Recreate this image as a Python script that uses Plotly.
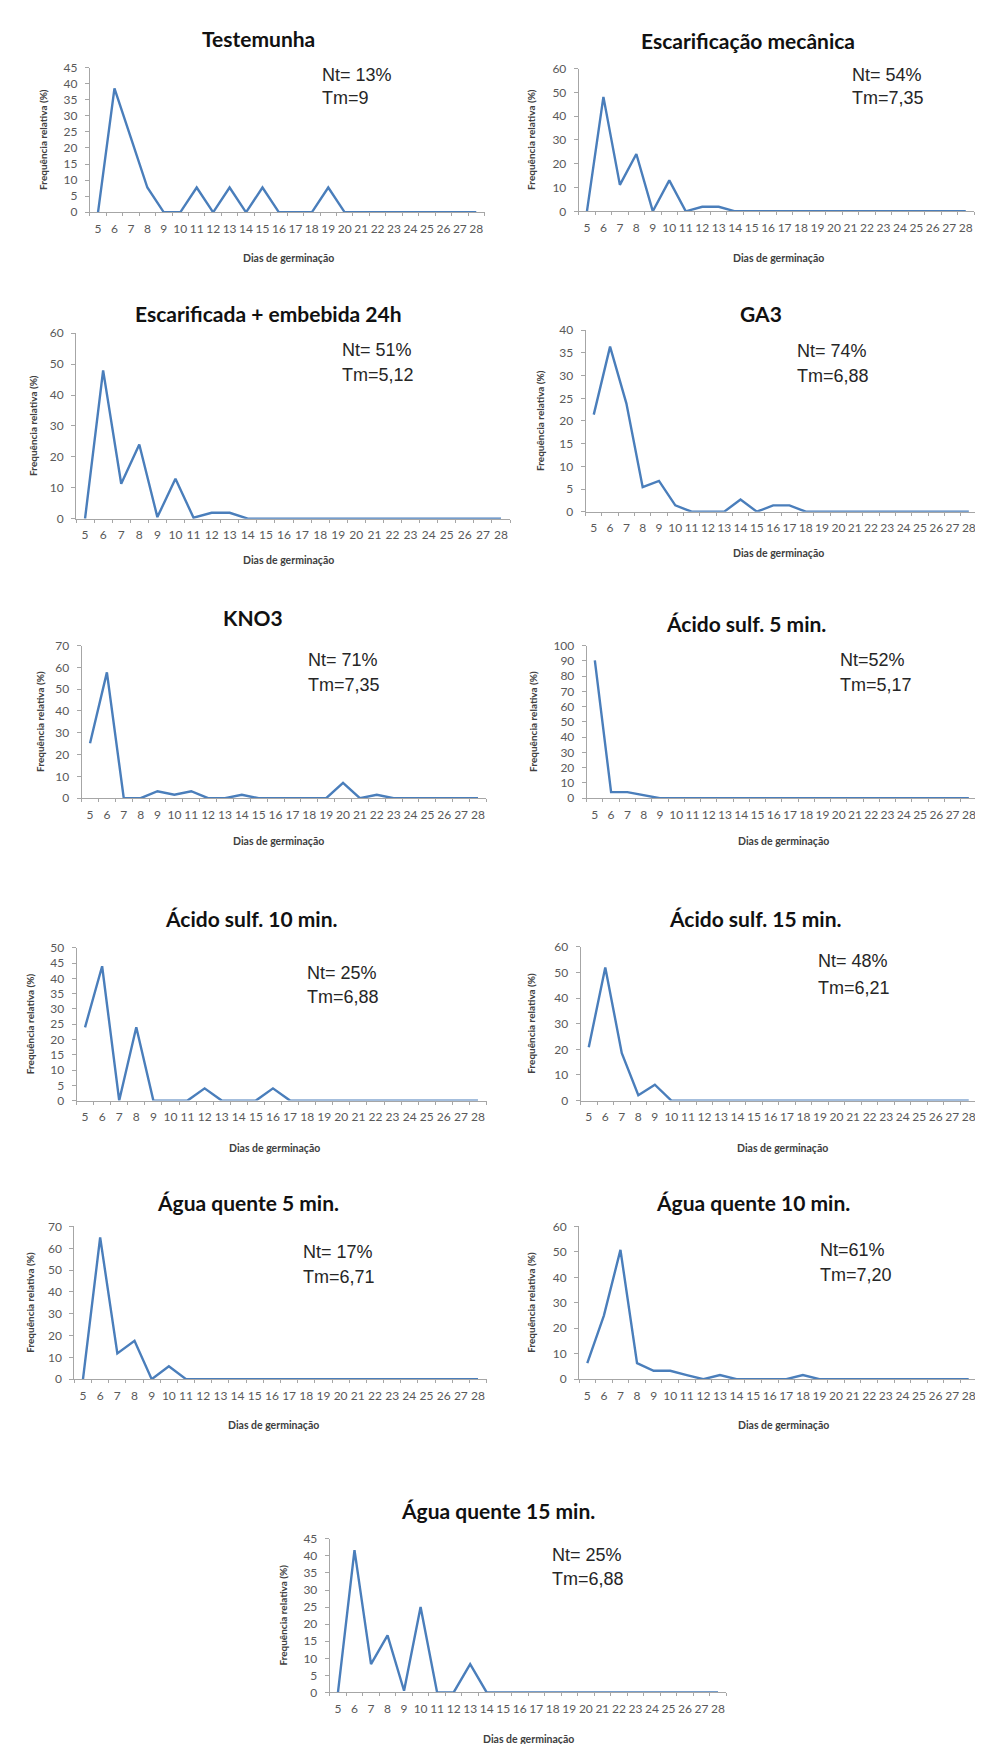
import plotly.graph_objects as go

W, H = 983, 1744

days = list(range(5, 29))

titles = [
    "Testemunha", "Escarificação mecânica", "Escarificada + embebida 24h", "GA3",
    "KNO3", "Ácido sulf. 5 min.", "Ácido sulf. 10 min.", "Ácido sulf. 15 min.",
    "Água quente 5 min.", "Água quente 10 min.", "Água quente 15 min.",
]
nt_labels = ["Nt= 13%", "Nt= 54%", "Nt= 51%", "Nt= 74%", "Nt= 71%", "Nt=52%",
             "Nt= 25%", "Nt= 48%", "Nt= 17%", "Nt=61%", "Nt= 25%"]
tm_labels = ["Tm=9", "Tm=7,35", "Tm=5,12", "Tm=6,88", "Tm=7,35", "Tm=5,17",
             "Tm=6,88", "Tm=6,21", "Tm=6,71", "Tm=7,20", "Tm=6,88"]
y_max = [45, 60, 60, 40, 70, 100, 50, 60, 70, 60, 45]
y_step = [5, 10, 10, 5, 10, 10, 5, 10, 10, 10, 5]

testemunha = [0, 38.5, 23.1, 7.7, 0, 0, 7.7, 0, 7.7, 0, 7.7, 0, 0, 0, 7.7, 0, 0, 0, 0, 0, 0, 0, 0, 0]
mecanica = [0, 48.1, 11.1, 24.1, 0, 13.0, 0, 1.9, 1.9, 0, 0, 0, 0, 0, 0, 0, 0, 0, 0, 0, 0, 0, 0, 0]
embebida = [0, 48.0, 11.3, 24.0, 0.5, 12.9, 0.3, 1.9, 1.9, 0, 0, 0, 0, 0, 0, 0, 0, 0, 0, 0, 0, 0, 0, 0]
ga3 = [21.4, 36.4, 23.9, 5.4, 6.8, 1.4, 0, 0, 0, 2.7, 0, 1.4, 1.4, 0, 0, 0, 0, 0, 0, 0, 0, 0, 0, 0]
kno3 = [25.2, 57.7, 0, 0, 3.2, 1.6, 3.2, 0, 0, 1.6, 0, 0, 0, 0, 0, 7.0, 0, 1.6, 0, 0, 0, 0, 0, 0]
acido5 = [90.3, 4.0, 4.0, 1.8, 0, 0, 0, 0, 0, 0, 0, 0, 0, 0, 0, 0, 0, 0, 0, 0, 0, 0, 0, 0]
acido10 = [24, 44, 0, 24, 0, 0, 0, 4, 0, 0, 0, 4, 0, 0, 0, 0, 0, 0, 0, 0, 0, 0, 0, 0]
acido15 = [20.8, 52.0, 18.5, 2.1, 6.2, 0, 0, 0, 0, 0, 0, 0, 0, 0, 0, 0, 0, 0, 0, 0, 0, 0, 0, 0]
agua5 = [0, 65.0, 11.8, 17.6, 0, 5.9, 0, 0, 0, 0, 0, 0, 0, 0, 0, 0, 0, 0, 0, 0, 0, 0, 0, 0]
agua10 = [6.3, 25.0, 50.8, 6.3, 3.3, 3.3, 1.6, 0, 1.6, 0, 0, 0, 0, 1.6, 0, 0, 0, 0, 0, 0, 0, 0, 0, 0]
agua15 = [0, 41.7, 8.3, 16.7, 0.5, 25.0, 0, 0, 8.3, 0, 0, 0, 0, 0, 0, 0, 0, 0, 0, 0, 0, 0, 0, 0]

series = [testemunha, mecanica, embebida, ga3, kno3, acido5,
          acido10, acido15, agua5, agua10, agua15]

y_title = "Frequência relativa (%)"
x_title = "Dias de germinação"

# layout in pixels: plot left, right, top, bottom, title (x,y), annot left x, line1 y, line2 y,
# y-title x, x-title (x,y)
panels = [
    dict(l=81.8, r=476.5, t=52, b=198, tx=250, ty=23, ax=312, a1=60, a2=83, yx=35, xx=280, xy=244),
    dict(l=570.7, r=966.0, t=53, b=197, tx=740, ty=25, ax=842, a1=60, a2=83, yx=523, xx=770, xy=244),
    dict(l=68.0, r=502.0, t=320, b=507, tx=260, ty=300, ax=332, a1=337, a2=362, yx=25, xx=280, xy=549),
    dict(l=577.6, r=969.0, t=317, b=500, tx=753, ty=300, ax=787, a1=338, a2=363, yx=532, xx=770, xy=542),
    dict(l=73.6, r=478.4, t=635, b=789, tx=245, ty=607, ax=298, a1=650, a2=675, yx=32, xx=270, xy=832),
    dict(l=578.7, r=969.0, t=635, b=789, tx=738, ty=613, ax=830, a1=650, a2=675, yx=525, xx=775, xy=832),
    dict(l=68.5, r=478.5, t=940, b=1094, tx=243, ty=910, ax=297, a1=965, a2=990, yx=22, xx=266, xy=1142),
    dict(l=572.5, r=969.0, t=939, b=1094, tx=747, ty=910, ax=808, a1=953, a2=980, yx=523, xx=774, xy=1142),
    dict(l=66.4, r=478.6, t=1221, b=1375, tx=240, ty=1197, ax=293, a1=1247, a2=1272, yx=22, xx=265, xy=1421),
    dict(l=571.0, r=969.0, t=1221, b=1375, tx=745, ty=1197, ax=810, a1=1245, a2=1270, yx=523, xx=775, xy=1421),
    dict(l=321.7, r=718.3, t=1536, b=1691, tx=490, ty=1507, ax=542, a1=1552, a2=1577, yx=275, xx=520, xy=1738),
]

LINE = "#4A7EBB"
AXIS = "#A6A6A6"
TICKF = dict(family="Lato", size=12, color="#595959")

def px(x):
    return x / W

def py(y):
    return 1 - y / H

fig = go.Figure()
layout = dict(width=W, height=H, margin=dict(l=0, r=0, t=0, b=0),
              paper_bgcolor="white", plot_bgcolor="white", showlegend=False)
annotations = []

for i, (p, vals) in enumerate(zip(panels, series)):
    n = "" if i == 0 else str(i + 1)
    fig.add_trace(go.Scatter(x=days, y=vals, mode="lines",
                             line=dict(color=LINE, width=2.4),
                             xaxis="x" + n, yaxis="y" + n, hoverinfo="skip"))
    layout["xaxis" + n] = dict(
        domain=[px(p["l"]), px(p["r"])], anchor="y" + n,
        range=[4.5, 28.5], tickvals=days, ticktext=[str(d) for d in days],
        ticks="", showgrid=False, zeroline=False, showline=True,
        linecolor=AXIS, linewidth=1, tickfont=TICKF, ticklabelstandoff=5,
        ticklabeloverflow="allow",
        minor=dict(tickvals=[d + 0.5 for d in range(4, 29)], ticks="outside",
                   ticklen=3, tickcolor=AXIS, showgrid=False),
        fixedrange=True,
    )
    layout["yaxis" + n] = dict(
        domain=[py(p["b"]), py(p["t"])], anchor="x" + n,
        range=[0, y_max[i]], dtick=y_step[i], tick0=0,
        ticks="outside", ticklen=4, tickcolor=AXIS,
        showgrid=False, zeroline=False, showline=True, linecolor=AXIS,
        linewidth=1, tickfont=TICKF, ticklabelstandoff=5, fixedrange=True,
        ticklabeloverflow="allow",
    )
    annotations.append(dict(text="<b>" + titles[i] + "</b>", x=px(p["tx"]), y=py(p["ty"]),
                            xref="paper", yref="paper", xanchor="center", yanchor="middle",
                            showarrow=False, font=dict(family="Lato", size=21, color="#111111")))
    annotations.append(dict(text=nt_labels[i], x=px(p["ax"]), y=py(p["a1"]),
                            xref="paper", yref="paper", xanchor="left", yanchor="middle",
                            showarrow=False, font=dict(family="Liberation Sans", size=18, color="#262626")))
    annotations.append(dict(text=tm_labels[i], x=px(p["ax"]), y=py(p["a2"]),
                            xref="paper", yref="paper", xanchor="left", yanchor="middle",
                            showarrow=False, font=dict(family="Liberation Sans", size=18, color="#262626")))
    annotations.append(dict(text="<b>" + y_title + "</b>", x=px(p["yx"]), y=py((p["t"] + p["b"]) / 2),
                            xref="paper", yref="paper", xanchor="center", yanchor="middle",
                            textangle=-90, showarrow=False,
                            font=dict(family="Lato", size=10, color="#404040")))
    annotations.append(dict(text="<b>" + x_title + "</b>", x=px(p["xx"]), y=py(p["xy"]),
                            xref="paper", yref="paper", xanchor="center", yanchor="middle",
                            showarrow=False, font=dict(family="Lato", size=10.5, color="#404040")))

layout["annotations"] = annotations
fig.update_layout(**layout)
fig.write_html("out.html")
